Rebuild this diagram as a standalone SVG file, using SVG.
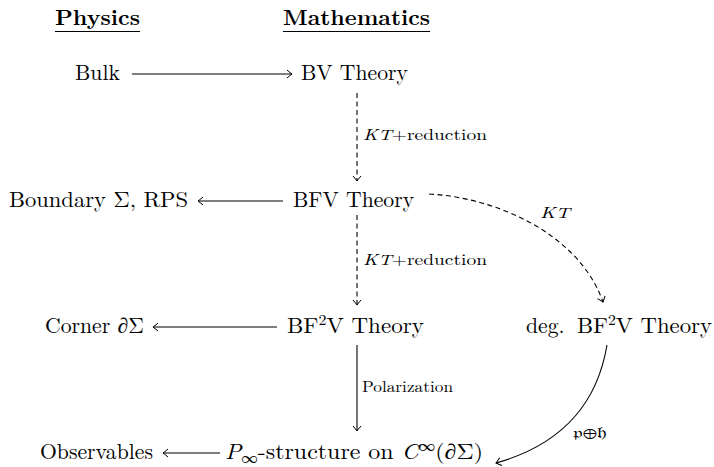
<svg xmlns="http://www.w3.org/2000/svg" width="714" height="467" viewBox="0 0 714 467">
<style>
.t{font-size:21.7px;fill:#000}
.h{font-size:21.7px;font-weight:bold;fill:#000}
.s{font-size:15px;fill:#000}
.i{font-style:italic}
.ln{fill:none;stroke:#000;stroke-width:1.1}
.d{stroke-dasharray:5,3.5}
</style>
<defs>
<marker id="a" viewBox="-6 -5 8 10" markerWidth="8" markerHeight="10" refX="0" refY="0" orient="auto" markerUnits="userSpaceOnUse">
<path d="M-5,-4 Q-1.5,-1 0,0 Q-1.5,1 -5,4" fill="none" stroke="#000" stroke-width="1"/>
</marker>
</defs>
<g font-family="Latin Modern Roman, Liberation Serif, serif">
<g id="headers">
<text class="h" x="55" y="25" textLength="85" lengthAdjust="spacingAndGlyphs">Physics</text>
<line x1="55" y1="31.5" x2="140" y2="31.5" stroke="#000" stroke-width="1"/>
<text class="h" x="283" y="25" textLength="147" lengthAdjust="spacingAndGlyphs">Mathematics</text>
<line x1="283" y1="31.5" x2="430" y2="31.5" stroke="#000" stroke-width="1"/>
</g>
<g id="bulk"><text class="t" x="75" y="80">Bulk</text></g>
<g id="bv"><text class="t" x="301" y="80">BV Theory</text></g>
<g id="boundary"><text class="t" x="9" y="207" textLength="179" lengthAdjust="spacingAndGlyphs">Boundary Σ, RPS</text></g>
<g id="bfv"><text class="t" x="293" y="207">BFV Theory</text></g>
<g id="corner"><text class="t" x="45" y="333">Corner <tspan class="i">∂</tspan>Σ</text></g>
<g id="bf2v"><text class="t" x="287" y="333" textLength="137" lengthAdjust="spacingAndGlyphs">BF<tspan font-size="15" dy="-8">2</tspan><tspan dy="8">V Theory</tspan></text></g>
<g id="degbf2v"><text class="t" x="526" y="333">deg.</text><text class="t" x="577" y="333" textLength="135" lengthAdjust="spacingAndGlyphs">BF<tspan font-size="15" dy="-8">2</tspan><tspan dy="8">V Theory</tspan></text></g>
<g id="observables"><text class="t" x="40" y="459">Observables</text></g>
<g id="pinf"><text class="t" x="225" y="459" textLength="258" lengthAdjust="spacingAndGlyphs"><tspan class="i">P</tspan><tspan font-size="15" dy="4">∞</tspan><tspan dy="-4">-structure on </tspan><tspan class="i">C</tspan><tspan font-size="15" dy="-8">∞</tspan><tspan dy="8">(</tspan><tspan class="i">∂</tspan>Σ)</text></g>
<g id="connectors">
<line class="ln" x1="132" y1="74" x2="292" y2="74" marker-end="url(#a)"/>
<line class="ln" x1="283" y1="201" x2="198" y2="201" marker-end="url(#a)"/>
<line class="ln" x1="277" y1="327" x2="153" y2="327" marker-end="url(#a)"/>
<line class="ln" x1="220" y1="453" x2="163" y2="453" marker-end="url(#a)"/>
<line class="ln d" x1="357" y1="93" x2="357" y2="181" marker-end="url(#a)"/>
<line class="ln d" x1="357" y1="215" x2="357" y2="305" marker-end="url(#a)"/>
<line class="ln" x1="357" y1="345" x2="357" y2="431" marker-end="url(#a)"/>
<path class="ln d" d="M429,194 C500,198 580,236 603,302" marker-end="url(#a)"/>
<path class="ln" d="M607,345 C597,405 560,445 496,463" marker-end="url(#a)"/>
<text class="s" x="363" y="140" textLength="124" lengthAdjust="spacingAndGlyphs"><tspan class="i">KT</tspan>+reduction</text>
<text class="s" x="363" y="265" textLength="124" lengthAdjust="spacingAndGlyphs"><tspan class="i">KT</tspan>+reduction</text>
<text class="s" x="362" y="392" textLength="91" lengthAdjust="spacingAndGlyphs">Polarization</text>
<text class="s i" x="540" y="218" textLength="30" lengthAdjust="spacingAndGlyphs">KT</text>
<text class="s" x="573" y="438" textLength="34" lengthAdjust="spacingAndGlyphs">𝔭⊕𝔥</text>
</g>
</g>
</svg>
